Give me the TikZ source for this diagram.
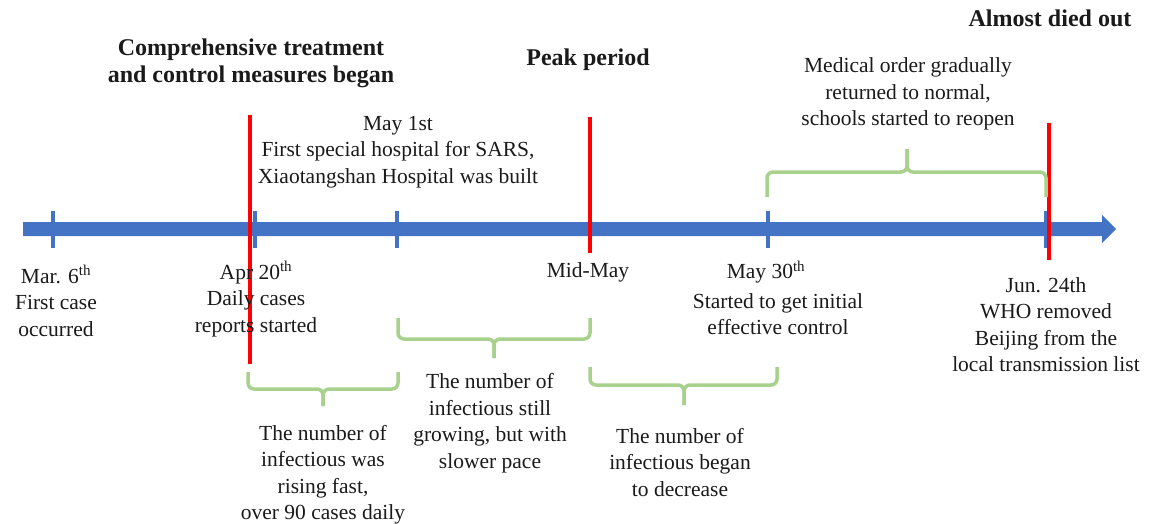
\documentclass[tikz,border=0pt]{standalone}
\usepackage{fontspec}
\setmainfont{Liberation Serif}
\definecolor{axisblue}{HTML}{4472C4}
\definecolor{bracegreen}{HTML}{A9D18E}
\definecolor{txt}{HTML}{1A1A1A}
\begin{document}
\begin{tikzpicture}[x=1pt,y=-1pt,
  lbl/.style={align=center,inner sep=0pt,text=txt,font=\fontsize{21.5}{26.5}\selectfont},
  ttl/.style={align=center,inner sep=0pt,text=txt,font=\fontsize{24}{27}\selectfont\bfseries},
  tick/.style={draw=axisblue,line width=4pt},
  redline/.style={draw=red,line width=4pt},
  brc/.style={draw=bracegreen,line width=3.5pt,rounded corners=6pt}]
\useasboundingbox (0,0) rectangle (1160,523);
% axis
\fill[axisblue] (23,222) -- (1102,222) -- (1102,215) -- (1116,229) -- (1102,243) -- (1102,236) -- (23,236) -- cycle;
\foreach \x in {53,255,397,590,768,1046} \draw[tick] (\x,211) -- (\x,248);
% red lines
\draw[redline] (250,115) -- (250,364);
\draw[redline] (590,117) -- (590,253);
\draw[redline] (1049,123) -- (1049,260);
% braces
\draw[brc] (248,372) -- (248,389) -- (323,389) -- (323,406);
\draw[brc] (398,372) -- (398,389) -- (323,389) -- (323,406);
\draw[brc] (398,318) -- (398,339) -- (494,339) -- (494,358);
\draw[brc] (590,318) -- (590,339) -- (494,339) -- (494,358);
\draw[brc] (590,367) -- (590,385) -- (684,385) -- (684,405);
\draw[brc] (777,367) -- (777,385) -- (684,385) -- (684,405);
\draw[brc] (767,197) -- (767,172) -- (907,172) -- (907,149);
\draw[brc] (1046,197) -- (1046,172) -- (907,172) -- (907,149);
% titles
\node[ttl] (t1) at (251,63.5) {Comprehensive treatment\\and control measures began};
\node[ttl] (t2) at (588,60) {Peak period};
\node[ttl] (t3) at (1050,18) {Almost died out};
% labels
\node[lbl] (may1) at (398,152) {May 1st\\First special hospital for SARS,\\Xiaotangshan Hospital was built};
\node[lbl] (med) at (908,94) {Medical order gradually\\returned to normal,\\schools started to reopen};
\node[lbl] (mar6) at (56,301) {Mar. 6\textsuperscript{th}\\First case\\occurred};
\node[lbl] (apr20) at (256,299) {Apr 20\textsuperscript{th}\\Daily cases\\reports started};
\node[lbl] (midmay) at (588,272) {Mid-May};
\node[lbl] (may30) at (766,272) {May 30\textsuperscript{th}};
\node[lbl] (ctrl) at (778,314) {Started to get initial\\effective control};
\node[lbl] (jun24) at (1046,324.5) {Jun. 24th\\WHO removed\\Beijing from the\\local transmission list};
\node[lbl] (b1) at (323,474.5) {The number of\\infectious was\\rising fast,\\over 90 cases daily};
\node[lbl] (b2) at (490,423) {The number of\\infectious still\\growing, but with\\slower pace};
\node[lbl] (b3) at (680,462.5) {The number of\\infectious began\\to decrease};
\end{tikzpicture}
\end{document}
